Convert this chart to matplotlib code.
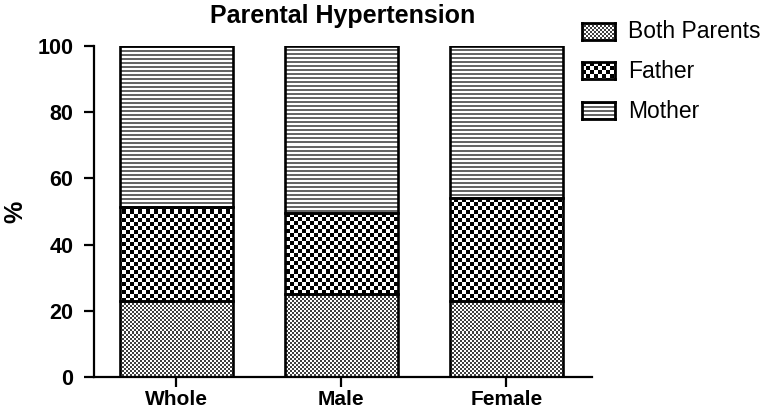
import numpy as np
import matplotlib.pyplot as plt

groups = ['Whole', 'Male', 'Female']
series = ['Both Parents', 'Father', 'Mother']
both_parents = [23, 25, 23]
father = [28.5, 24.5, 31]
mother = [48.5, 50.5, 46]

plt.rcParams['font.family'] = ['Liberation Sans', 'DejaVu Sans']

W, H = 766, 415
fig = plt.figure(figsize=(W / 100, H / 100), dpi=100)
ax = fig.add_axes([94 / W, 1 - 377 / H, (592 - 94) / W, (377 - 46) / H])


def pattern(kind, h, w):
    # pixel-based fill patterns like the original GraphPad ones
    i, j = np.mgrid[0:h, 0:w]
    if kind == 'Both Parents':
        return np.where((i // 2 + j // 2) % 2, 1.0, 0.25)
    if kind == 'Father':
        return np.where((i // 4 + j // 4) % 2, 1.0, 0.0)
    return np.where(i % 4 < 2, 0.4, 1.0)


x = np.arange(len(groups))
xlim = (-0.5, 2.52)
ylim = (0, 100)
bottoms = np.zeros(len(groups))
for name, vals in zip(series, [both_parents, father, mother]):
    bars = ax.bar(x, vals, width=0.685, bottom=bottoms, facecolor='none',
                  edgecolor='black', linewidth=1.9, zorder=3)
    img = pattern(name, 331, 498)
    for b in bars:
        im = ax.imshow(img, cmap='gray', vmin=0, vmax=1,
                       extent=(xlim[0], xlim[1], ylim[0], ylim[1]),
                       aspect='auto', interpolation='nearest', zorder=2)
        im.set_clip_path(b)
    bottoms += np.array(vals)

ax.set_xlim(*xlim)
ax.set_ylim(*ylim)
ax.set_xticks(x)
ax.set_xticklabels(groups)
ax.set_yticks([0, 20, 40, 60, 80, 100])
for s in ['top', 'right']:
    ax.spines[s].set_visible(False)
for s in ['left', 'bottom']:
    ax.spines[s].set_linewidth(1.6)
ax.tick_params(direction='out', length=7, width=1.6, labelsize=15.5)
ax.tick_params(axis='y', pad=8)
ax.tick_params(axis='x', labelsize=15, pad=2.5)
for lab in ax.get_xticklabels() + ax.get_yticklabels():
    lab.set_fontweight('bold')

fig.text(343 / W, 1 - 16 / H, 'Parental Hypertension', fontsize=18,
         fontweight='bold', ha='center', va='center')
fig.text(15 / W, 1 - 212 / H, '%', rotation=90, fontsize=18,
         fontweight='bold', ha='center', va='center')

# legend built by hand so the swatches show the same pixel patterns
for k, name in enumerate(series):
    top = 23 + k * 39.5
    lax = fig.add_axes([582 / W, 1 - (top + 17) / H, 33 / W, 17 / H])
    lax.imshow(pattern(name, 17, 33), cmap='gray', vmin=0, vmax=1,
               aspect='auto', interpolation='nearest')
    lax.set_xticks([])
    lax.set_yticks([])
    for sp in lax.spines.values():
        sp.set_linewidth(2)
    fig.text(628 / W, 1 - (top + 9) / H, name, fontsize=16.5,
             ha='left', va='center')

fig.savefig('out.png', dpi=100)
